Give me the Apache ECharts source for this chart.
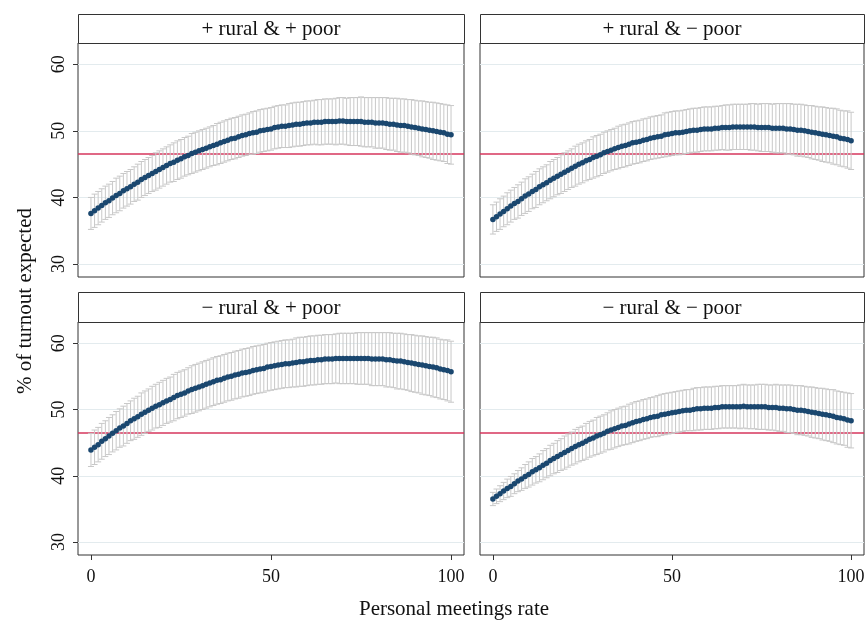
<!DOCTYPE html>
<html>
<head>
    <meta charset="UTF-8">
    <title>Turnout by personal meetings rate</title>
    <script src="https://cdn.jsdelivr.net/npm/echarts@6/dist/echarts.min.js"></script>
    <style>
        html, body { margin: 0; padding: 0; background: #fff; }
    </style>
</head>
<body>
<div id="chart" style="width:868px; height:622px;"></div>
<script>
    // tick labels and reference line
    var xTicks = [0, 50, 100];
    var yTicks = [30, 40, 50, 60];
    var refLine = 46.5;
    var panelTitles = ['+ rural & + poor', '+ rural & \u2212 poor', '\u2212 rural & + poor', '\u2212 rural & \u2212 poor'];

    // predicted % of turnout at meetings rate 0,1,...,100 and half width of the CI
    var p1Mean = [37.6,38.0,38.4,38.8,39.2,39.5,39.9,40.3,40.6,41.0,41.3,
        41.6,42.0,42.3,42.7,43.0,43.3,43.6,43.9,44.2,44.5,
        44.8,45.1,45.3,45.6,45.8,46.1,46.3,46.6,46.8,47.0,
        47.2,47.4,47.6,47.8,48.0,48.2,48.4,48.6,48.8,48.9,
        49.1,49.3,49.4,49.6,49.7,49.8,50.0,50.1,50.2,50.3,
        50.5,50.6,50.7,50.7,50.8,50.9,51.0,51.0,51.1,51.2,
        51.2,51.3,51.3,51.3,51.4,51.4,51.4,51.4,51.5,51.5,
        51.4,51.4,51.4,51.4,51.4,51.3,51.3,51.3,51.2,51.2,
        51.2,51.1,51.0,51.0,50.9,50.8,50.8,50.7,50.6,50.5,
        50.4,50.3,50.2,50.1,50.0,49.9,49.8,49.7,49.5,49.4];
    var p1Err = [2.4,2.5,2.5,2.5,2.5,2.5,2.5,2.6,2.6,2.6,2.6,
        2.6,2.6,2.7,2.7,2.7,2.7,2.7,2.8,2.8,2.8,
        2.8,2.8,2.9,2.9,2.9,2.9,2.9,3.0,3.0,3.0,
        3.0,3.0,3.0,3.0,3.1,3.1,3.1,3.1,3.1,3.1,
        3.1,3.1,3.1,3.1,3.2,3.2,3.2,3.2,3.2,3.2,
        3.2,3.2,3.2,3.2,3.3,3.3,3.3,3.3,3.3,3.3,
        3.3,3.3,3.4,3.4,3.4,3.4,3.4,3.5,3.5,3.5,
        3.5,3.6,3.6,3.6,3.7,3.7,3.7,3.7,3.8,3.8,
        3.8,3.9,3.9,3.9,4.0,4.0,4.0,4.0,4.1,4.1,
        4.1,4.2,4.2,4.2,4.3,4.3,4.3,4.3,4.4,4.4];

    var p2Mean = [36.7,37.1,37.5,37.9,38.3,38.7,39.1,39.4,39.8,40.2,40.5,
        40.9,41.2,41.6,41.9,42.2,42.6,42.9,43.2,43.5,43.8,
        44.1,44.4,44.7,45.0,45.2,45.5,45.7,46.0,46.2,46.4,
        46.7,46.9,47.1,47.3,47.5,47.7,47.8,48.0,48.2,48.3,
        48.4,48.6,48.7,48.9,49.0,49.1,49.2,49.4,49.5,49.6,
        49.7,49.7,49.8,49.9,50.0,50.1,50.1,50.2,50.3,50.3,
        50.3,50.4,50.4,50.5,50.5,50.5,50.6,50.6,50.6,50.6,
        50.6,50.6,50.6,50.5,50.5,50.5,50.5,50.4,50.4,50.4,
        50.4,50.3,50.3,50.2,50.1,50.1,50.0,49.9,49.8,49.7,
        49.6,49.5,49.4,49.3,49.2,49.1,48.9,48.8,48.7,48.5];
    var p2Err = [2.2,2.2,2.3,2.3,2.4,2.4,2.4,2.5,2.5,2.6,2.6,
        2.6,2.7,2.7,2.7,2.7,2.8,2.8,2.8,2.9,2.9,
        2.9,2.9,3.0,3.0,3.0,3.0,3.0,3.1,3.1,3.1,
        3.1,3.1,3.1,3.1,3.2,3.2,3.2,3.2,3.2,3.2,
        3.2,3.2,3.2,3.2,3.2,3.2,3.2,3.3,3.3,3.3,
        3.3,3.3,3.3,3.3,3.3,3.3,3.3,3.3,3.3,3.3,
        3.3,3.3,3.3,3.3,3.4,3.4,3.4,3.4,3.4,3.4,
        3.4,3.5,3.5,3.5,3.6,3.6,3.6,3.6,3.7,3.7,
        3.7,3.8,3.8,3.8,3.9,3.9,3.9,3.9,4.0,4.0,
        4.0,4.1,4.1,4.1,4.2,4.2,4.2,4.2,4.3,4.3];

    var p3Mean = [43.9,44.3,44.7,45.2,45.6,46.0,46.4,46.8,47.2,47.5,47.9,
        48.3,48.6,48.9,49.3,49.6,49.9,50.2,50.5,50.7,51.0,
        51.3,51.5,51.8,52.1,52.3,52.5,52.8,53.0,53.2,53.4,
        53.6,53.8,54.0,54.2,54.4,54.5,54.7,54.9,55.0,55.2,
        55.3,55.5,55.6,55.7,55.9,56.0,56.1,56.2,56.4,56.5,
        56.6,56.7,56.8,56.9,56.9,57.0,57.1,57.2,57.2,57.3,
        57.4,57.4,57.5,57.5,57.6,57.6,57.6,57.7,57.7,57.7,
        57.7,57.7,57.7,57.7,57.7,57.7,57.7,57.6,57.6,57.6,
        57.6,57.5,57.5,57.4,57.3,57.3,57.2,57.1,57.0,56.9,
        56.8,56.7,56.6,56.5,56.4,56.3,56.1,56.0,55.9,55.7];
    var p3Err = [2.5,2.6,2.6,2.7,2.7,2.8,2.8,2.9,2.9,3.0,3.0,
        3.0,3.1,3.1,3.2,3.2,3.2,3.3,3.3,3.4,3.4,
        3.4,3.4,3.5,3.5,3.5,3.5,3.5,3.6,3.6,3.6,
        3.6,3.6,3.6,3.6,3.6,3.6,3.6,3.6,3.6,3.6,
        3.6,3.6,3.6,3.6,3.6,3.6,3.6,3.6,3.6,3.6,
        3.6,3.6,3.6,3.6,3.6,3.6,3.7,3.7,3.7,3.7,
        3.7,3.7,3.7,3.7,3.7,3.7,3.7,3.7,3.8,3.8,
        3.8,3.8,3.8,3.9,3.9,3.9,3.9,4.0,4.0,4.0,
        4.0,4.1,4.1,4.1,4.2,4.2,4.2,4.2,4.3,4.3,
        4.3,4.4,4.4,4.4,4.5,4.5,4.5,4.5,4.6,4.6];

    var p4Mean = [36.5,36.9,37.3,37.7,38.1,38.4,38.8,39.2,39.5,39.9,40.2,
        40.6,40.9,41.2,41.6,41.9,42.3,42.6,42.9,43.2,43.5,
        43.8,44.1,44.4,44.7,44.9,45.2,45.5,45.7,46.0,46.2,
        46.4,46.7,46.9,47.1,47.3,47.5,47.6,47.8,48.0,48.2,
        48.3,48.5,48.6,48.8,48.9,49.0,49.2,49.3,49.4,49.5,
        49.6,49.7,49.8,49.9,49.9,50.0,50.1,50.1,50.2,50.2,
        50.2,50.3,50.3,50.4,50.4,50.4,50.4,50.4,50.4,50.5,
        50.4,50.4,50.4,50.4,50.4,50.4,50.3,50.3,50.3,50.2,
        50.2,50.1,50.1,50.0,49.9,49.9,49.8,49.7,49.6,49.5,
        49.4,49.3,49.2,49.1,49.0,48.8,48.7,48.6,48.4,48.3];
    var p4Err = [1.0,1.1,1.2,1.3,1.4,1.5,1.5,1.6,1.7,1.8,1.9,
        2.0,2.0,2.1,2.2,2.2,2.3,2.3,2.4,2.4,2.5,
        2.5,2.5,2.6,2.6,2.6,2.7,2.7,2.7,2.8,2.8,
        2.8,2.8,2.9,2.9,2.9,2.9,2.9,3.0,3.0,3.0,
        3.0,3.0,3.0,3.0,3.0,3.1,3.1,3.1,3.1,3.1,
        3.1,3.1,3.1,3.1,3.1,3.2,3.2,3.2,3.2,3.2,
        3.2,3.2,3.2,3.2,3.2,3.2,3.2,3.2,3.3,3.3,
        3.3,3.3,3.3,3.4,3.4,3.4,3.4,3.4,3.5,3.5,
        3.5,3.6,3.6,3.6,3.7,3.7,3.7,3.7,3.8,3.8,
        3.8,3.9,3.9,3.9,4.0,4.0,4.0,4.0,4.1,4.1];

    var FONT = '"Liberation Serif", "Times New Roman", serif';
    var INK = '#111';

    // panel layout (pixels)
    var panels = [
        {mean: p1Mean, err: p1Err, left: 78, top: 43, width: 386, height: 234, head: 14, yLab: true, xLab: false},
        {mean: p2Mean, err: p2Err, left: 480, top: 43, width: 384, height: 234, head: 14, yLab: false, xLab: false},
        {mean: p3Mean, err: p3Err, left: 78, top: 322, width: 386, height: 233, head: 292, yLab: true, xLab: true},
        {mean: p4Mean, err: p4Err, left: 480, top: 322, width: 384, height: 233, head: 292, yLab: false, xLab: true}
    ];

    function renderCap(params, api) {
        var lo = api.coord([api.value(0), api.value(1)]);
        var hi = api.coord([api.value(0), api.value(2)]);
        var w = 3;
        var st = {stroke: '#c8c8c8', lineWidth: 1};
        return {
            type: 'group',
            children: [
                {type: 'line', shape: {x1: lo[0], y1: lo[1], x2: hi[0], y2: hi[1]}, style: st},
                {type: 'line', shape: {x1: lo[0] - w, y1: lo[1], x2: lo[0] + w, y2: lo[1]}, style: st},
                {type: 'line', shape: {x1: hi[0] - w, y1: hi[1], x2: hi[0] + w, y2: hi[1]}, style: st}
            ]
        };
    }

    var grids = [], xAxes = [], yAxes = [], series = [], graphics = [];

    panels.forEach(function (p, i) {
        grids.push({
            left: p.left, top: p.top, width: p.width, height: p.height,
            show: true, borderColor: '#333', borderWidth: 1, backgroundColor: '#fff'
        });
        xAxes.push({
            type: 'value', gridIndex: i, min: -3.6, max: 103.6,
            axisLine: {show: false, onZero: false},
            splitLine: {show: false},
            axisTick: {show: p.xLab, length: 5, customValues: xTicks, lineStyle: {color: '#333'}},
            axisLabel: {show: p.xLab, customValues: xTicks, margin: 13, fontFamily: FONT, fontSize: 18, color: INK}
        });
        yAxes.push({
            type: 'value', gridIndex: i, min: 28.05, max: 63.2,
            axisLine: {show: false, onZero: false},
            splitLine: {show: true, lineStyle: {color: '#e3ebee', width: 1}},
            axisTick: {show: p.yLab, length: 5, customValues: yTicks, lineStyle: {color: '#333'}},
            axisLabel: {show: p.yLab, customValues: yTicks, rotate: 90, margin: 10, fontFamily: FONT, fontSize: 18, color: INK}
        });

        series.push({
            type: 'line', xAxisIndex: i, yAxisIndex: i, data: [], silent: true, z: 1,
            markLine: {
                silent: true, symbol: 'none', z: 1, animation: false,
                label: {show: false},
                lineStyle: {color: '#d6365c', width: 1.5, type: 'solid'},
                data: [{yAxis: refLine}]
            }
        });
        series.push({
            type: 'custom', xAxisIndex: i, yAxisIndex: i, silent: true, z: 2,
            renderItem: renderCap,
            encode: {x: 0, y: [1, 2]},
            data: p.mean.map(function (m, k) { return [k, m - p.err[k], m + p.err[k]]; })
        });
        series.push({
            type: 'scatter', xAxisIndex: i, yAxisIndex: i, silent: true, z: 3,
            symbol: 'circle', symbolSize: 5.5,
            itemStyle: {color: '#1a476f', opacity: 1},
            data: p.mean.map(function (m, k) { return [k, m]; })
        });

        graphics.push({
            type: 'rect',
            shape: {x: p.left + 0.5, y: p.head + 0.5, width: p.width, height: p.top - p.head},
            style: {fill: '#fff', stroke: '#333', lineWidth: 1}
        });
        graphics.push({
            type: 'text', x: p.left + p.width / 2, y: (p.head + p.top) / 2 + 1,
            style: {text: panelTitles[i], font: '21px ' + FONT, fill: INK, align: 'center', verticalAlign: 'middle'}
        });
    });

    graphics.push({
        type: 'text', x: 25, y: 301, rotation: Math.PI / 2,
        style: {text: '% of turnout expected', font: '21px ' + FONT, fill: INK, align: 'center', verticalAlign: 'middle'}
    });
    graphics.push({
        type: 'text', x: 454, y: 609,
        style: {text: 'Personal meetings rate', font: '21px ' + FONT, fill: INK, align: 'center', verticalAlign: 'middle'}
    });

    var chart = echarts.init(document.getElementById('chart'), null, {renderer: 'canvas'});
    chart.setOption({
        backgroundColor: '#fff',
        animation: false,
        grid: grids,
        xAxis: xAxes,
        yAxis: yAxes,
        series: series,
        graphic: graphics
    });
</script>
</body>
</html>
